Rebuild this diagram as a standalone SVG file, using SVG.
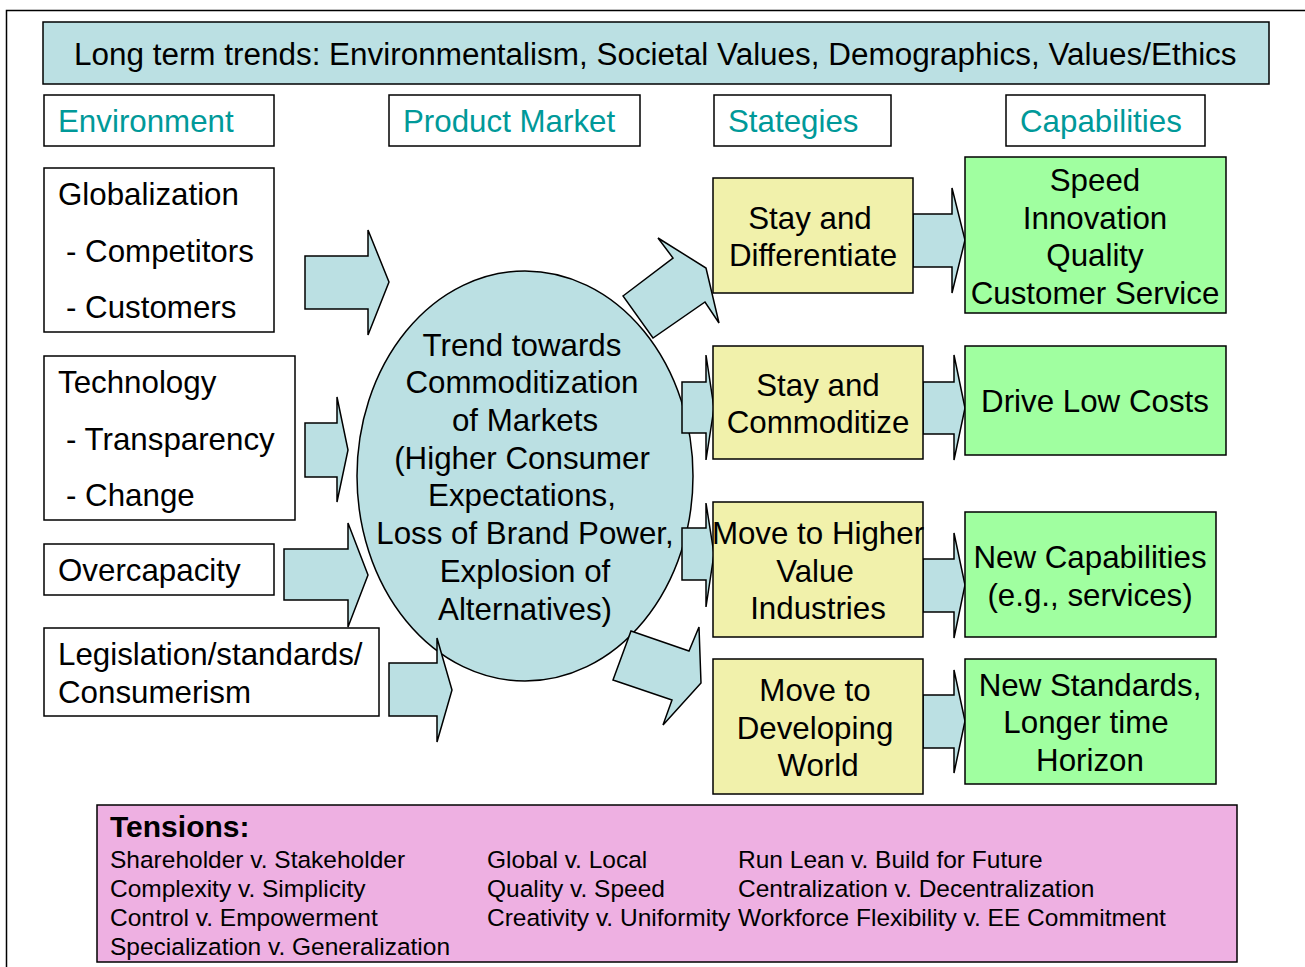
<svg xmlns="http://www.w3.org/2000/svg" width="1305" height="967" viewBox="0 0 1305 967">
<style>
text{font-family:"Liberation Sans",Arial,sans-serif;font-size:31.3px;fill:#000}
.hdr{fill:#009999}
.c{text-anchor:middle}
.box{fill:#fff;stroke:#000;stroke-width:1.5}
.blue{fill:#BBE0E3;stroke:#000;stroke-width:1.5}
.yel{fill:#F1F1AB;stroke:#000;stroke-width:1.5}
.grn{fill:#A0FFA0;stroke:#000;stroke-width:1.5}
.arr{fill:#BBE0E3;stroke:#000;stroke-width:1.5;stroke-linejoin:miter}
.t{font-size:24.5px}
.tb{font-size:30px;font-weight:bold}
</style>
<rect x="0" y="0" width="1305" height="967" fill="#fff"/>
<rect x="6.5" y="10.5" width="1320" height="980" fill="none" stroke="#000" stroke-width="1.5"/>

<g id="banner">
<rect class="blue" x="43" y="22" width="1226" height="62"/>
<text x="74" y="65" style="font-size:31.45px">Long term trends: Environmentalism, Societal Values, Demographics, Values/Ethics</text>
</g>

<g id="hdr-environment"><rect class="box" x="44" y="95" width="230" height="51"/><text class="hdr" x="58" y="132">Environment</text></g>
<g id="hdr-product-market"><rect class="box" x="389" y="95" width="251" height="51"/><text class="hdr" x="403" y="132">Product Market</text></g>
<g id="hdr-strategies"><rect class="box" x="714" y="95" width="177" height="51"/><text class="hdr" x="728" y="132">Stategies</text></g>
<g id="hdr-capabilities"><rect class="box" x="1006" y="95" width="199" height="51"/><text class="hdr" x="1020" y="132">Capabilities</text></g>

<g id="connectors">
<polygon class="arr" points="305,256 368,256 368,230 389,282 368,335 368,309 305,309"/>
<polygon class="arr" points="305,423 337,423 337,397 348,450 337,502 337,477 305,477"/>
<polygon class="arr" points="284,549 348,549 348,523 368,575 348,627 348,600 284,600"/>
</g>

<g id="trend">
<ellipse class="blue" cx="525" cy="476" rx="168" ry="205"/>
<text class="c" x="522" y="356">Trend towards</text>
<text class="c" x="522" y="393">Commoditization</text>
<text class="c" x="525" y="431">of Markets</text>
<text class="c" x="522" y="469">(Higher Consumer</text>
<text class="c" x="522" y="506">Expectations,</text>
<text class="c" x="525" y="544">Loss of Brand Power,</text>
<text class="c" x="525" y="582">Explosion of</text>
<text class="c" x="525" y="620">Alternatives)</text>
</g>

<g id="connectors2">
<polygon class="arr" points="389,663 437,663 437,638 452,690 437,742 437,716 389,716"/>
<polygon class="arr" points="623,296 673,258 658,238 706,268 719,323 705,302 653,338"/>
<polygon class="arr" points="682,382 706,382 706,355 714,408 706,460 706,433 682,433"/>
<polygon class="arr" points="682,528 706,528 706,503 714,554 706,607 706,580 682,580"/>
<polygon class="arr" points="631,631 689,651 699,627 701,683 663,725 672,700 613,680"/>
<polygon class="arr" points="913,214 952,214 952,188 965,240 952,293 952,267 913,267"/>
<polygon class="arr" points="923,382 954,382 954,355 965,408 954,460 954,434 923,434"/>
<polygon class="arr" points="923,559 954,559 954,533 965,585 954,638 954,612 923,612"/>
<polygon class="arr" points="923,695 954,695 954,670 965,721 954,773 954,748 923,748"/>
</g>

<g id="globalization">
<rect class="box" x="44" y="168" width="230" height="164"/>
<text x="58" y="205">Globalization</text>
<text x="66" y="262">- Competitors</text>
<text x="66" y="318">- Customers</text>
</g>
<g id="technology">
<rect class="box" x="44" y="356" width="251" height="164"/>
<text x="58" y="393">Technology</text>
<text x="66" y="450">- Transparency</text>
<text x="66" y="506">- Change</text>
</g>
<g id="overcapacity">
<rect class="box" x="44" y="544" width="230" height="51"/>
<text x="58" y="581">Overcapacity</text>
</g>
<g id="legislation">
<rect class="box" x="44" y="628" width="335" height="88"/>
<text x="58" y="665">Legislation/standards/</text>
<text x="58" y="703">Consumerism</text>
</g>

<g id="stay-differentiate">
<rect class="yel" x="713" y="178" width="200" height="115"/>
<text class="c" x="810" y="229">Stay and</text>
<text class="c" x="813" y="266">Differentiate</text>
</g>
<g id="stay-commoditize">
<rect class="yel" x="713" y="346" width="210" height="113"/>
<text class="c" x="818" y="396">Stay and</text>
<text class="c" x="818" y="433">Commoditize</text>
</g>
<g id="move-higher">
<rect class="yel" x="713" y="502" width="210" height="135"/>
<text class="c" x="818" y="544">Move to Higher</text>
<text class="c" x="815" y="582">Value</text>
<text class="c" x="818" y="619">Industries</text>
</g>
<g id="move-developing">
<rect class="yel" x="713" y="659" width="210" height="135"/>
<text class="c" x="815" y="701">Move to</text>
<text class="c" x="815" y="739">Developing</text>
<text class="c" x="818" y="776">World</text>
</g>

<g id="speed">
<rect class="grn" x="965" y="157" width="261" height="156"/>
<text class="c" x="1095" y="191">Speed</text>
<text class="c" x="1095" y="229">Innovation</text>
<text class="c" x="1095" y="266">Quality</text>
<text class="c" x="1095" y="304">Customer Service</text>
</g>
<g id="low-costs">
<rect class="grn" x="965" y="346" width="261" height="109"/>
<text class="c" x="1095" y="412">Drive Low Costs</text>
</g>
<g id="new-capabilities">
<rect class="grn" x="965" y="512" width="251" height="125"/>
<text class="c" x="1090" y="568">New Capabilities</text>
<text class="c" x="1090" y="606">(e.g., services)</text>
</g>
<g id="new-standards">
<rect class="grn" x="965" y="659" width="251" height="125"/>
<text class="c" x="1090" y="696">New Standards,</text>
<text class="c" x="1086" y="733">Longer time</text>
<text class="c" x="1090" y="771">Horizon</text>
</g>

<g id="tensions">
<rect x="97" y="805" width="1140" height="157" fill="#EEB0E2" stroke="#000" stroke-width="1.5"/>
<text class="tb" x="110" y="837">Tensions:</text>
<text class="t" x="110" y="868">Shareholder v. Stakeholder</text>
<text class="t" x="110" y="897">Complexity v. Simplicity</text>
<text class="t" x="110" y="926">Control v. Empowerment</text>
<text class="t" x="110" y="955">Specialization v. Generalization</text>
<text class="t" x="487" y="868">Global v. Local</text>
<text class="t" x="487" y="897">Quality v. Speed</text>
<text class="t" x="487" y="926">Creativity v. Uniformity</text>
<text class="t" x="738" y="868">Run Lean v. Build for Future</text>
<text class="t" x="738" y="897">Centralization v. Decentralization</text>
<text class="t" x="738" y="926">Workforce Flexibility v. EE Commitment</text>
</g>
</svg>
